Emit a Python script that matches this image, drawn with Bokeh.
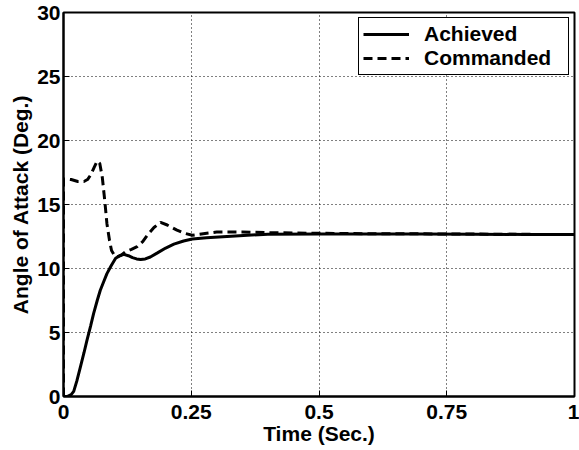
from bokeh.plotting import figure
from bokeh.models import Range1d, FixedTicker, Legend, LegendItem
from bokeh.embed import file_html
from bokeh.resources import INLINE

# Achieved angle-of-attack response
t_achieved = [0, 0.008, 0.015, 0.02, 0.026, 0.033, 0.04, 0.046, 0.053, 0.059,
              0.066, 0.072, 0.079, 0.085, 0.093, 0.102, 0.11, 0.118, 0.127, 0.135,
              0.143, 0.151, 0.16, 0.17, 0.183, 0.2, 0.216, 0.235, 0.252, 0.28,
              0.32, 0.36, 0.4, 0.5, 0.6, 0.7, 0.8, 0.9, 1.0]
alpha_achieved = [0, 0.02, 0.15, 0.4, 1.2, 2.3, 3.4, 4.4, 5.5, 6.5,
                  7.5, 8.3, 9.0, 9.6, 10.2, 10.8, 11.0, 11.1, 11.0, 10.85,
                  10.75, 10.7, 10.75, 10.9, 11.2, 11.6, 11.9, 12.15, 12.3, 12.4,
                  12.5, 12.6, 12.68, 12.7, 12.7, 12.7, 12.68, 12.66, 12.65]

# Commanded angle of attack
t_commanded = [0, 0, 0.004, 0.015, 0.028, 0.04, 0.047, 0.053, 0.06, 0.066,
               0.071, 0.076, 0.081, 0.085, 0.09, 0.094, 0.1, 0.105, 0.113, 0.121,
               0.133, 0.144, 0.155, 0.164, 0.177, 0.19, 0.203, 0.222, 0.237, 0.252,
               0.27, 0.3, 0.35, 0.4, 0.5, 0.6, 0.75, 0.9, 1.0]
alpha_commanded = [0, 17.0, 17.0, 16.95, 16.8, 16.8, 16.95, 17.3, 17.9, 18.4,
                   18.2, 17.1, 15.2, 13.5, 12.2, 11.4, 11.0, 10.9, 11.05, 11.3,
                   11.5, 11.7, 12.1, 12.6, 13.2, 13.6, 13.4, 13.0, 12.75, 12.6,
                   12.7, 12.85, 12.85, 12.8, 12.75, 12.72, 12.7, 12.67, 12.65]

x_ticks = [0, 0.25, 0.5, 0.75, 1]
x_tick_labels = ["0", "0.25", "0.5", "0.75", "1"]
y_ticks = [0, 5, 10, 15, 20, 25, 30]

FONT = "Liberation Sans"
FSIZE = "21px"

p = figure(width=579, height=450,
           x_range=Range1d(0, 1), y_range=Range1d(0, 30),
           output_backend="svg", toolbar_location=None,
           min_border_left=63, min_border_right=5,
           min_border_top=12, min_border_bottom=54,
           background_fill_color="white", border_fill_color="white")

r_ach = p.line(t_achieved, alpha_achieved, line_color="black", line_width=3)
r_cmd = p.line(t_commanded, alpha_commanded, line_color="black", line_width=3,
               line_dash="9 5")

p.xaxis.ticker = FixedTicker(ticks=x_ticks)
p.xaxis.major_label_overrides = {tk: lb for tk, lb in zip(x_ticks, x_tick_labels)}
p.yaxis.ticker = FixedTicker(ticks=y_ticks)

p.xaxis.axis_label = "Time (Sec.)"
p.yaxis.axis_label = "Angle of Attack (Deg.)"

for ax in (p.xaxis[0], p.yaxis[0]):
    ax.axis_line_width = 2
    ax.axis_line_color = "black"
    ax.major_tick_in = 6
    ax.major_tick_out = 0
    ax.major_tick_line_color = "black"
    ax.minor_tick_in = 0
    ax.minor_tick_out = 0
    ax.major_label_text_font = FONT
    ax.major_label_text_font_style = "bold"
    ax.major_label_text_font_size = FSIZE
    ax.major_label_text_color = "black"
    ax.axis_label_text_font = FONT
    ax.axis_label_text_font_style = "bold"
    ax.axis_label_text_font_size = FSIZE
    ax.axis_label_text_color = "black"

p.xaxis.major_label_standoff = 8
p.xaxis.axis_label_standoff = 0
p.yaxis.major_label_standoff = 3
p.yaxis.axis_label_standoff = 2

for g in (p.xgrid[0], p.ygrid[0]):
    g.grid_line_color = "black"
    g.grid_line_dash = "1 3"
    g.grid_line_width = 1

p.outline_line_color = "black"
p.outline_line_width = 2
p.outline_line_alpha = 1

legend = Legend(items=[LegendItem(label="Achieved", renderers=[r_ach]),
                       LegendItem(label="Commanded", renderers=[r_cmd])],
                location="top_right")
legend.margin = 5
legend.padding = 4
legend.spacing = 0
legend.glyph_width = 46
legend.glyph_height = 20
legend.label_standoff = 15
legend.label_width = 140
legend.label_text_font = FONT
legend.label_text_font_style = "bold"
legend.label_text_font_size = FSIZE
legend.label_text_color = "black"
legend.border_line_color = "black"
legend.border_line_width = 1.5
legend.border_line_alpha = 1
legend.background_fill_alpha = 1
p.add_layout(legend)

open("out.html", "w").write(file_html(p, INLINE))
